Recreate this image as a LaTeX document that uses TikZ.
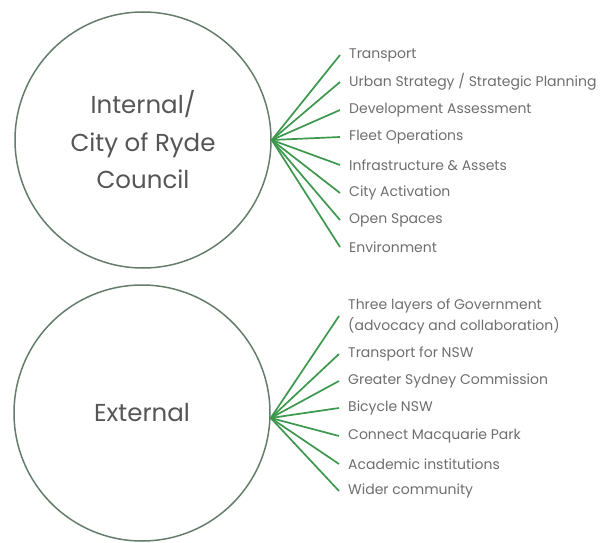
\documentclass[tikz,border=0pt]{standalone}
\usepackage{fontspec}
\setmainfont{Poppins}
\usetikzlibrary{positioning}
\definecolor{fangreen}{RGB}{60,152,76}
\definecolor{ringgrey}{RGB}{100,125,106}
\definecolor{labelgrey}{RGB}{110,110,110}
\definecolor{titlegrey}{RGB}{85,85,85}
\tikzset{%
  group/.style={circle, draw=ringgrey, line width=1.5pt, minimum size=256pt,
    text=titlegrey, align=center, font=\fontsize{24.5}{37.5}\selectfont},
  partner/.style={anchor=west, inner xsep=9pt, inner ysep=0pt, text=labelgrey,
    align=left, font=\fontsize{14}{21}\selectfont},
  every edge/.style={draw=fangreen, line width=1.7pt}
}
\begin{document}
\begin{tikzpicture}[x=1pt, y=-1pt]
  \useasboundingbox (0,0) rectangle (600,543);

  % internal group
  \node[group] (int) at (143,140) {Internal/\\City of Ryde\\Council};
  \coordinate (hubint) at (int.east);

  \node[partner] (i1) at (340,55)  {Transport};
  \node[partner] (i2) at (340,82)  {Urban Strategy / Strategic Planning};
  \node[partner] (i3) at (340,110) {Development Assessment};
  \node[partner] (i4) at (340,137) {Fleet Operations};
  \node[partner] (i5) at (340,165) {Infrastructure \& Assets};
  \node[partner] (i6) at (340,193) {City Activation};
  \node[partner] (i7) at (340,220) {Open Spaces};
  \node[partner] (i8) at (340,247) {Environment};

  \draw (hubint) edge (i1.west) edge (i2.west) edge (i3.west) edge (i4.west)
                 edge (i5.west) edge (i6.west) edge (i7.west) edge (i8.west);

  % external group
  \node[group] (ext) at (142,413) {External};
  \coordinate (hubext) at ([yshift=-5pt]ext.east);

  \node[partner] (e1) at (339,316) {Three layers of Government\\(advocacy and collaboration)};
  \node[partner] (e2) at (339,354) {Transport for NSW};
  \node[partner] (e3) at (339,381) {Greater Sydney Commission};
  \node[partner] (e4) at (339,408) {Bicycle NSW};
  \node[partner] (e5) at (339,436) {Connect Macquarie Park};
  \node[partner] (e6) at (339,464) {Academic institutions};
  \node[partner] (e7) at (339,491) {Wider community};

  \draw (hubext) edge (e1.west) edge (e2.west) edge (e3.west) edge (e4.west)
                 edge (e5.west) edge (e6.west) edge (e7.west);
\end{tikzpicture}
\end{document}
